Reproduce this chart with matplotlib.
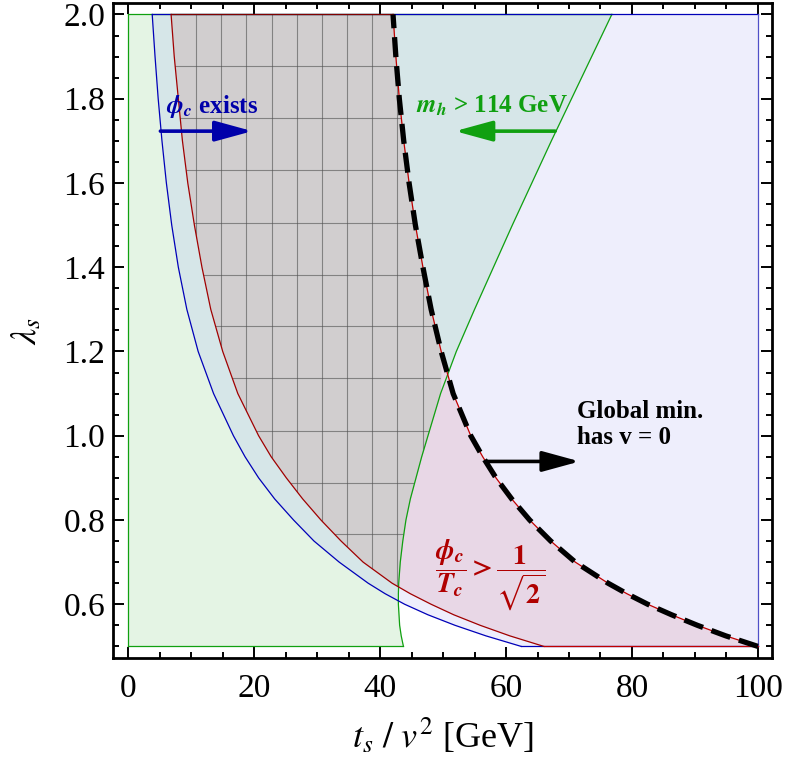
import numpy as np
import matplotlib.pyplot as plt
from matplotlib.ticker import MultipleLocator, FormatStrFormatter

plt.rcParams['font.family'] = ['Liberation Serif', 'DejaVu Serif']
plt.rcParams['mathtext.fontset'] = 'stix'

# lambda_s values where the region boundaries were read
lam = [0.5, 0.525, 0.55, 0.575, 0.6, 0.625, 0.65, 0.7, 0.75, 0.8, 0.85, 0.9,
       0.95, 1.0, 1.1, 1.2, 1.3, 1.4, 1.5, 1.6, 1.7, 1.8, 1.9, 2.0]
# t_s / v^2 on each boundary
ts_phi_exists = [62.4, 56.8, 51.9, 47.6, 43.9, 40.8, 38.1, 33.5, 29.5, 26.25, 23.25, 20.7,
                 18.55, 16.7, 13.55, 11.1, 9.3, 7.95, 6.9, 6.05, 5.35, 4.75, 4.25, 3.8]
ts_strong = [66.0, 60.6, 55.9, 51.7, 48.1, 44.8, 41.9, 37.3, 33.8, 30.6, 27.7, 25.1,
             22.7, 20.7, 17.4, 15.0, 13.1, 11.7, 10.5, 9.45, 8.6, 7.95, 7.3, 6.8]
ts_global = [100.0, 94.9, 90.4, 86.3, 82.5, 79.2, 76.2, 71.0, 67.1, 63.75, 60.9, 58.4,
             56.3, 54.4, 51.6, 49.7, 48.1, 46.8, 45.6, 44.6, 43.75, 43.05, 42.5, 42.05]
ts_higgs = [43.7, 43.35, 43.1, 43.0, 42.9, 42.9, 42.95, 43.2, 43.6, 44.1, 44.8, 45.7,
            46.6, 47.6, 49.6, 52.1, 55.0, 58.0, 61.0, 64.1, 67.2, 70.4, 73.6, 76.8]
ts_range = [0, 100]

# mesh of the overlap region
mesh_ts = [10.75, 14.75, 18.75, 22.75, 26.75, 30.75, 34.75, 38.75, 42.75, 46.75, 50.75]
mesh_lam = [1.878, 1.755, 1.630, 1.506, 1.382, 1.260, 1.137, 1.012, 0.889, 0.767, 0.644]

c_green_fill = '#e4f4e4'
c_blue_fill = '#eeeefc'
c_gb_fill = '#d6e6e8'
c_pink_fill = '#e8d7e6'
c_gray_fill = '#d1cecf'
c_green = '#10a010'
c_blue = '#0000b8'
c_red = '#a00000'

lam = np.array(lam)
xb = np.array(ts_phi_exists)
xr = np.array(ts_strong)
xd = np.array(ts_global)
xg = np.array(ts_higgs)
t0, t1 = ts_range
l0, l1 = lam[0], lam[-1]

fig = plt.figure(figsize=(7.87, 7.65), dpi=100)
ax = fig.add_axes([0.1442, 0.1399, 0.8364, 0.8561])

# regions (each overlap painted with its own colour)
ax.fill_betweenx(lam, t0, xg, color=c_green_fill, lw=0)
ax.fill_betweenx(lam, xb, t1, color=c_blue_fill, lw=0)
ax.fill_betweenx(lam, xb, xg, where=xg > xb, interpolate=True, color=c_gb_fill, lw=0)
ax.fill_betweenx(lam, xr, xd, color=c_pink_fill, lw=0)
right = np.minimum(xg, xd)
gray = ax.fill_betweenx(lam, xr, right, where=right > xr, interpolate=True,
                        color=c_gray_fill, lw=0)

# mesh inside the grey region
clip = gray.get_paths()[0]
for x in mesh_ts:
    ln, = ax.plot([x, x], [l0, l1], color='#505050', lw=0.8, alpha=0.6)
    ln.set_clip_path(clip, ax.transData)
for y in mesh_lam:
    ln, = ax.plot([t0, t1], [y, y], color='#505050', lw=0.8, alpha=0.6)
    ln.set_clip_path(clip, ax.transData)

# boundaries
ax.plot(xg, lam, color=c_green, lw=0.9)
ax.plot([t0, t0], [l0, l1], color=c_green, lw=0.9)
ax.plot([t0, xg[-1]], [l1, l1], color=c_green, lw=0.9)
ax.plot([t0, xg[0]], [l0, l0], color=c_green, lw=0.9)

ax.plot(xb, lam, color=c_blue, lw=0.9)
ax.plot([xb[-1], t1], [l1, l1], color=c_blue, lw=0.9)
ax.plot([t1, t1], [l0, l1], color='#5050c8', lw=0.9)
ax.plot([xb[0], t1], [l0, l0], color=c_blue, lw=0.9)

ax.plot(xr, lam, color=c_red, lw=0.9)
ax.plot(xd, lam, color='#c00000', lw=0.9)
ax.plot([xr[-1], xd[-1]], [l1, l1], color='#800000', lw=0.9)
ax.plot([xr[0], t1], [l0, l0], color='#c00000', lw=0.9)

ax.plot(xd, lam, color='black', lw=3.8, dashes=(3.8, 1.7), dash_capstyle='butt')

# labels and arrows
def arrow(x0, x1, y, color):
    ax.annotate('', xy=(x1, y), xytext=(x0, y),
                arrowprops=dict(arrowstyle='-|>,head_length=0.95,head_width=0.26',
                                mutation_scale=24, color=color, lw=2.6,
                                shrinkA=0, shrinkB=0))

ax.text(6.0, 1.766, r'$\mathbfit{\phi}_{\mathbfit{c}}$ exists', color='#0000aa',
        fontsize=18, fontweight='bold', va='baseline')
arrow(5.1, 19.7, 1.723, '#0000aa')

ax.text(45.7, 1.766, r'$\mathbfit{m}_{\mathbfit{h}}$ > 114 GeV', color='#10a010',
        fontsize=18, fontweight='bold', va='baseline')
arrow(67.8, 51.9, 1.723, '#10a010')

ax.text(71.2, 1.041, 'Global min.', color='black', fontsize=18,
        fontweight='bold', va='baseline')
ax.text(71.2, 0.9815, 'has v = 0', color='black', fontsize=18,
        fontweight='bold', va='baseline')
arrow(57.0, 71.7, 0.939, 'black')

ax.text(57.5, 0.670,
        r'$\dfrac{\mathbfit{\phi}_{\mathbfit{c}}}{\mathbfit{T}_{\mathbfit{c}}}'
        r' \mathbf{>} \dfrac{\mathbf{1}}{\sqrt{\mathbf{2}}}$',
        color='#b00000', fontsize=20, va='center', ha='center')

ax.set_xlim(-2.35, 102.2)
ax.set_ylim(0.4725, 2.027)
ax.xaxis.set_major_locator(MultipleLocator(20))
ax.xaxis.set_minor_locator(MultipleLocator(5))
ax.yaxis.set_major_locator(MultipleLocator(0.2))
ax.yaxis.set_minor_locator(MultipleLocator(0.05))
ax.yaxis.set_major_formatter(FormatStrFormatter('%.1f'))
ax.tick_params(which='both', direction='in', top=True, right=True, width=1.4)
ax.tick_params(which='major', length=8, labelsize=24)
ax.tick_params(which='minor', length=4.5)
ax.tick_params(axis='x', pad=11)
ax.tick_params(axis='y', pad=6)
for s in ax.spines.values():
    s.set_linewidth(2)

ax.set_xlabel(r'$t_s\ /\ v^2$ [GeV]', fontsize=26, labelpad=9)
ax.set_ylabel(r'$\lambda_s$', fontsize=26, labelpad=14)

fig.savefig('out.png', dpi=100)
